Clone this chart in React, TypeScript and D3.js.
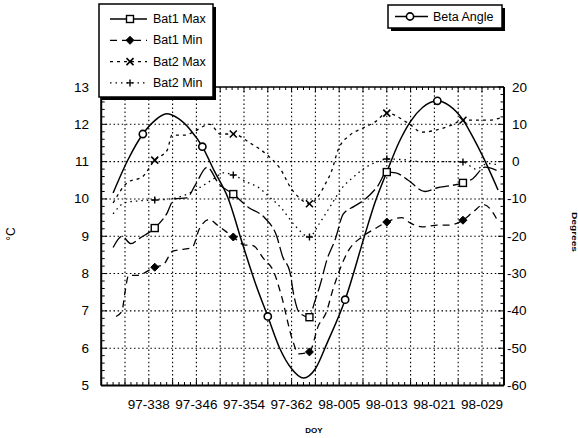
import React from "react";
import * as d3 from "d3";

// ---------- data ----------
const bat1MaxDays = [332, 333.5, 335, 336.5, 339, 341, 342.3, 344.4, 345.8, 347.8, 349.8, 352.2, 354.7, 357.5, 359.5, 360.5, 361.7, 362.4, 363.3, 365, 365.8, 366.8, 368, 369.3, 370.7, 372.5, 374.4, 376.5, 378, 379.5, 381.6, 384.4, 386.5, 388.5, 390.8, 392.5, 394.5, 396.7];
const bat1MaxVals = [8.7, 9.0, 8.8, 8.95, 9.22, 9.6, 10.0, 10.03, 10.37, 10.85, 10.4, 10.13, 9.78, 9.49, 9.0, 8.45, 8.05, 7.4, 6.95, 6.83, 7.2, 7.7, 8.4, 8.9, 9.6, 9.8, 10.0, 10.35, 10.72, 10.7, 10.5, 10.2, 10.3, 10.35, 10.43, 10.55, 10.85, 10.75];

const bat1MinDays = [332.5, 333.5, 334, 334.6, 336, 339, 340.5, 342, 343.8, 345.3, 346.5, 348.2, 349.5, 352.2, 354, 355.5, 357.3, 359, 360.3, 362.1, 363.2, 365, 366.5, 367.8, 369, 371.5, 374, 376, 378, 380.5, 382, 384, 386.5, 388.5, 390.8, 392.5, 394.3, 396.7];
const bat1MinVals = [6.85, 7.0, 7.5, 7.95, 7.95, 8.17, 8.25, 8.6, 8.65, 8.7, 9.2, 9.45, 9.3, 8.98, 8.77, 8.75, 8.4, 8.05, 7.4, 6.25, 5.85, 5.9, 6.6, 6.95, 7.6, 8.6, 9.0, 9.2, 9.38, 9.5, 9.35, 9.25, 9.3, 9.3, 9.43, 9.65, 9.85, 9.4];

const bat2MaxDays = [332, 334.5, 336.9, 339, 341.1, 341.9, 344.1, 345.4, 348.3, 350, 352.2, 355, 357.9, 360, 362.1, 363.3, 365, 366.3, 367.6, 368.8, 369.8, 371.8, 374, 376, 378, 381.6, 383.9, 386.4, 388.9, 390.8, 395.3, 397];
const bat2MaxVals = [9.89, 10.45, 10.59, 11.04, 11.31, 11.71, 11.71, 11.79, 12.0, 11.74, 11.74, 11.5, 11.18, 10.83, 10.24, 10.03, 9.87, 10.03, 10.38, 10.78, 11.31, 11.71, 11.9, 12.06, 12.3, 12.03, 11.79, 11.85, 11.98, 12.11, 12.11, 12.17];

const bat2MinDays = [332, 334, 336.5, 339, 341.5, 344, 346.5, 349, 350.5, 352.2, 354.5, 356.5, 358.3, 360.3, 362.5, 365, 366.5, 368.5, 370.5, 372.5, 374.5, 376.5, 378, 381, 384, 387, 390.8, 393, 395, 397];
const bat2MinVals = [9.6, 9.9, 9.95, 9.97, 10.0, 10.1, 10.3, 10.55, 10.7, 10.64, 10.45, 10.3, 10.05, 9.75, 9.3, 8.98, 9.3, 9.8, 10.3, 10.6, 10.85, 11.0, 11.07, 11.05, 11.0, 11.0, 10.99, 10.8, 10.95, 10.9];

const betaDays = [332, 334.5, 337, 339, 341, 343, 345, 347, 349, 351.3, 353.8, 356, 358, 360, 362, 364, 366, 368, 371, 374.3, 376, 378, 380, 382, 384, 386.5, 388.5, 390.8, 392.5, 394.2, 396.7];
const betaVals = [-8.4, 0.5, 7.4, 11, 12.8, 11.5, 8.5, 4.0, -2.5, -9.7, -22.3, -33, -41.5, -50, -55.5, -58, -55.5, -48.5, -37, -19.7, -11, -2.8, 5, 10.8, 14.5, 16.3, 15, 11.2, 6.5, 1.2, -7.6];
const betaMarkerDays = [337, 347, 358, 371, 386.5];

const batMarkerDays = [339, 352.2, 365, 378, 390.8];

const xTickDays = [338, 346, 354, 362, 370, 378, 386, 394];
const xTickLabels = ["97-338", "97-346", "97-354", "97-362", "98-005", "98-013", "98-021", "98-029"];
const xGridDays = d3.range(334, 395, 4);
const xMinorDays = d3.range(331, 398, 1);
const yLeftTicks = [5, 6, 7, 8, 9, 10, 11, 12, 13];
const yRightTicks = [20, 10, 0, -10, -20, -30, -40, -50, -60];
const legendLabels = ["Bat1 Max", "Bat1 Min", "Bat2 Max", "Bat2 Min"];

const FONT = "'Liberation Sans', Arial, Helvetica, sans-serif";

const L = 101.2, R = 504, T = 87, B = 385.5;

function Marker({ kind, cx, cy }: { kind: string; cx: number; cy: number }) {
  if (kind === "square")
    return <rect x={cx - 3.5} y={cy - 3.5} width={7} height={7} fill="#fff" stroke="#000" strokeWidth={1.4} />;
  if (kind === "diamond")
    return <path d={`M${cx},${cy - 4}L${cx + 4},${cy}L${cx},${cy + 4}L${cx - 4},${cy}Z`} fill="#000" stroke="#000" strokeWidth={1} />;
  if (kind === "x")
    return <path d={`M${cx - 3.5},${cy - 3.5}L${cx + 3.5},${cy + 3.5}M${cx - 3.5},${cy + 3.5}L${cx + 3.5},${cy - 3.5}`} stroke="#000" strokeWidth={1.6} />;
  if (kind === "plus")
    return <path d={`M${cx - 3.5},${cy}L${cx + 3.5},${cy}M${cx},${cy - 3.5}L${cx},${cy + 3.5}`} stroke="#000" strokeWidth={1.4} />;
  return <circle cx={cx} cy={cy} r={3.6} fill="#fff" stroke="#000" strokeWidth={1.6} />;
}

export default function App() {
  const x = d3.scaleLinear().domain([330, 397.7]).range([L, R]);
  const yL = d3.scaleLinear().domain([5, 13]).range([B, T]);
  const yR = d3.scaleLinear().domain([-60, 20]).range([B, T]);

  const series = [
    { days: bat1MaxDays, vals: bat1MaxVals, dash: "14,4", marker: "square" },
    { days: bat1MinDays, vals: bat1MinVals, dash: "7,5", marker: "diamond" },
    { days: bat2MaxDays, vals: bat2MaxVals, dash: "3,4", marker: "x" },
    { days: bat2MinDays, vals: bat2MinVals, dash: "1.5,4", marker: "plus" },
  ];

  const lineL = d3
    .line<[number, number]>()
    .x((d) => x(d[0]))
    .y((d) => yL(d[1]))
    .curve(d3.curveMonotoneX);
  const lineR = d3
    .line<[number, number]>()
    .x((d) => x(d[0]))
    .y((d) => yR(d[1]))
    .curve(d3.curveMonotoneX);

  const betaInterp = d3.scaleLinear().domain(betaDays).range(betaVals);

  const minorL = d3.range(5, 13.001, 0.2);
  const minorR = d3.range(-60, 20.001, 2);

  return (
    <svg width={578} height={438} style={{ position: "absolute", left: 0, top: 0, background: "#fff" }} fontFamily={FONT}>
      <rect x={0} y={0} width={578} height={438} fill="#fff" />
      {/* grid */}
      <g stroke="#000" strokeWidth={1.1} strokeDasharray="1.5,2.6">
        {xGridDays.map((d) => (
          <line key={"gx" + d} x1={x(d)} x2={x(d)} y1={T} y2={B} />
        ))}
        {d3.range(6, 13).map((v) => (
          <line key={"gy" + v} x1={L} x2={R} y1={yL(v)} y2={yL(v)} />
        ))}
      </g>
      {/* minor / major ticks */}
      <g stroke="#000" strokeWidth={1}>
        {xMinorDays.map((d) => {
          const major = (d - 334) % 4 === 0;
          return (
            <g key={"mt" + d}>
              <line x1={x(d)} x2={x(d)} y1={B} y2={B - (major ? 6 : 3.5)} />
              <line x1={x(d)} x2={x(d)} y1={T} y2={T + (major ? 5 : 3)} />
            </g>
          );
        })}
        {minorL.map((v, i) => (
          <line key={"ml" + i} x1={L} x2={L + (i % 5 === 0 ? 6 : 3.5)} y1={yL(v)} y2={yL(v)} />
        ))}
        {minorR.map((v, i) => (
          <line key={"mr" + i} x1={R} x2={R - (i % 5 === 0 ? 6 : 3.5)} y1={yR(v)} y2={yR(v)} />
        ))}
      </g>
      {/* frame */}
      <line x1={L} x2={R} y1={T} y2={T} stroke="#000" strokeWidth={1.5} />
      <line x1={L} x2={R} y1={B} y2={B} stroke="#000" strokeWidth={2} />
      <line x1={L} x2={L} y1={T} y2={B} stroke="#000" strokeWidth={2} />
      <line x1={R} x2={R} y1={T} y2={B} stroke="#000" strokeWidth={2} />

      {/* battery series */}
      {series.map((s, i) => (
        <path
          key={"s" + i}
          d={lineL(s.days.map((d, j) => [d, s.vals[j]] as [number, number])) || ""}
          fill="none"
          stroke="#000"
          strokeWidth={1.3}
          strokeDasharray={s.dash}
        />
      ))}
      {/* beta angle */}
      <path
        d={lineR(betaDays.map((d, j) => [d, betaVals[j]] as [number, number])) || ""}
        fill="none"
        stroke="#000"
        strokeWidth={1.5}
      />
      {series.map((s, i) => {
        const f = d3.scaleLinear().domain(s.days).range(s.vals);
        return batMarkerDays.map((d) => <Marker key={"m" + i + d} kind={s.marker} cx={x(d)} cy={yL(f(d))} />);
      })}
      {betaMarkerDays.map((d) => (
        <Marker key={"bm" + d} kind="circle" cx={x(d)} cy={yR(betaInterp(d))} />
      ))}

      {/* axis labels */}
      <g fontSize={13.5} fill="#000">
        {yLeftTicks.map((v) => (
          <text key={"yl" + v} x={89} y={yL(v)} textAnchor="end" dominantBaseline="central">
            {v}
          </text>
        ))}
        {yRightTicks.map((v) => (
          <text key={"yr" + v} x={v < 0 ? 507 : 512} y={yR(v)} textAnchor="start" dominantBaseline="central">
            {v}
          </text>
        ))}
        {xTickDays.map((d, i) => (
          <text key={"xl" + d} x={x(d)} y={409} textAnchor="middle">
            {xTickLabels[i]}
          </text>
        ))}
      </g>
      <text x={314} y={433} fontSize={8} fontWeight="bold" textAnchor="middle">
        DOY
      </text>
      <text transform="translate(15,234) rotate(-90)" fontSize={12} textAnchor="middle">
        °C
      </text>
      <text transform="translate(572,232) rotate(90)" fontSize={7.5} fontWeight="bold" textAnchor="middle" textLength={40} lengthAdjust="spacingAndGlyphs">
        Degrees
      </text>

      {/* legend 1 */}
      <rect x={102} y={7} width={114} height={93} fill="#000" />
      <rect x={99} y={4} width={114} height={93} fill="#fff" stroke="#000" strokeWidth={1.5} />
      {legendLabels.map((lab, i) => {
        const cy = 19 + i * 21.3;
        const s = series[i];
        return (
          <g key={"lg" + i}>
            <line x1={110} x2={147} y1={cy} y2={cy} stroke="#000" strokeWidth={1.3} strokeDasharray={i === 0 ? "none" : s.dash} />
            <Marker kind={s.marker} cx={130} cy={cy} />
            <text x={153} y={cy} fontSize={12.5} dominantBaseline="central">
              {lab}
            </text>
          </g>
        );
      })}

      {/* legend 2 */}
      <rect x={391} y={8} width={114} height={23} fill="#000" />
      <rect x={388} y={5} width={114} height={23} fill="#fff" stroke="#000" strokeWidth={1.5} />
      <line x1={395} x2={428} y1={16.5} y2={16.5} stroke="#000" strokeWidth={1.5} />
      <Marker kind="circle" cx={410} cy={16.5} />
      <text x={433} y={16.5} fontSize={12.5} dominantBaseline="central">
        Beta Angle
      </text>
    </svg>
  );
}
